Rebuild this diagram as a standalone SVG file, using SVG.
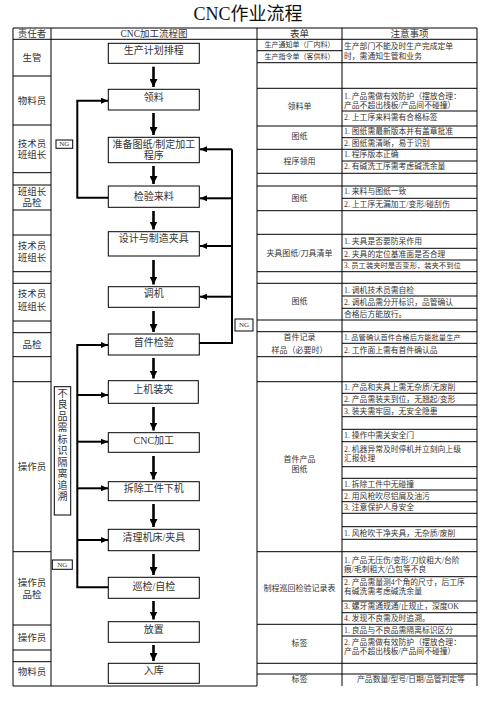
<svg xmlns="http://www.w3.org/2000/svg" width="496" height="702" viewBox="0 0 496 702">
<defs>
<style>
text{font-family:"Liberation Serif","Noto Sans CJK SC",serif;fill:#333;dominant-baseline:central}
.grid{fill:none;stroke:#000;stroke-width:1}
.box{fill:#fff;stroke:#000;stroke-width:1}
.c{text-anchor:middle}
.h{font-size:9.5px}
.r{font-size:9.5px;text-anchor:middle}
.n{font-size:10px;text-anchor:middle}
.f{font-size:8px;text-anchor:middle}
.s{font-size:7px;text-anchor:middle}
.d{font-size:7.8px}
.ng{font-size:7px;text-anchor:middle;font-family:"Liberation Serif",serif}
.flow{fill:none;stroke:#000;stroke-width:2.6}
.fb{fill:none;stroke:#000;stroke-width:2}
</style>
<marker id="ah" markerUnits="userSpaceOnUse" markerWidth="8" markerHeight="8" viewBox="0 0 8 8" refX="8" refY="4" orient="auto">
<path d="M0,0 L8,4 L0,8 Z" fill="#000"/>
</marker>
<marker id="ahs" markerUnits="userSpaceOnUse" markerWidth="7" markerHeight="6" viewBox="0 0 7 6" refX="7" refY="3" orient="auto">
<path d="M0,0 L7,3 L0,6 Z" fill="#000"/>
</marker>
</defs>
<rect width="496" height="702" fill="#fff"/>
<text x="248" y="14" class="c" style="font-size:18px;fill:#111">CNC作业流程</text>

<g id="table">
<path class="grid" d="M13,28H477M13,39.3H477M13,28V686M51,28V686M257,28V686M342,28V686M477,28V686M13,686H257"/>
<path class="grid" d="M13,76H51M13,125H51M13,172.7H51M13,185H51M13,210H51M13,235H51M13,271.7H51M13,283.3H51M13,321H51M13,332.7H51M13,356.7H51M13,381.7H51M13,551.7H51M13,625H51M13,650H51M13,661.7H51"/>
<path class="grid" d="M257,62.7H477M257,88.3H477M257,126H477M257,149.3H477M257,173.3H477M257,186H477M257,210.7H477M257,234.3H477M257,271.7H477M257,283.3H477M257,320H477M257,331.7H477M257,356.7H477M257,381.7H477M257,551.7H477M257,624.3H477M257,663.3H477M257,674H477M257,50.7H342"/>
<path class="grid" d="M342,111H477M342,137.7H477M342,161H477M342,198.3H477M342,248.3H477M342,260H477M342,296H477M342,308.3H477M342,343.3H477M342,393.3H477M342,405H477M342,416.7H477M342,429.3H477M342,441.7H477M342,466.7H477M342,478.3H477M342,490H477M342,501.7H477M342,513.3H477M342,526.7H477M342,539.3H477M342,576.7H477M342,601H477M342,612.7H477M342,636H477"/>
<text x="32" y="34" class="h c">责任者</text>
<text x="154" y="34" class="h c">CNC加工流程图</text>
<text x="299.5" y="34" class="h c">表单</text>
<text x="409.5" y="34" class="h c">注意事项</text>
</g>

<g id="roles">
<text x="32" y="57.5" class="r">生管</text>
<text x="32" y="100.5" class="r">物料员</text>
<text x="32" y="144" class="r">技术员</text>
<text x="32" y="155" class="r">班组长</text>
<text x="32" y="191.7" class="r">班组长</text>
<text x="32" y="203" class="r">品检</text>
<text x="32" y="245.5" class="r">技术员</text>
<text x="32" y="258" class="r">班组长</text>
<text x="32" y="294" class="r">技术员</text>
<text x="32" y="306.7" class="r">班组长</text>
<text x="32" y="345" class="r">品检</text>
<text x="32" y="467" class="r">操作员</text>
<text x="32" y="582.7" class="r">操作员</text>
<text x="32" y="595" class="r">品检</text>
<text x="32" y="637.5" class="r">操作员</text>
<text x="32" y="672" class="r">物料员</text>
</g>

<g id="forms">
<text x="299.5" y="45" class="s">生产通知单（厂内料）</text>
<text x="299.5" y="56.7" class="s">生产指令单（客供料）</text>
<text x="299.5" y="106.7" class="f">领料单</text>
<text x="299.5" y="136.7" class="f">图纸</text>
<text x="299.5" y="161.3" class="f">程序领用</text>
<text x="299.5" y="198.3" class="f">图纸</text>
<text x="299.5" y="253.3" class="f">夹具图纸/刀具清单</text>
<text x="299.5" y="301.7" class="f">图纸</text>
<text x="299.5" y="337.5" class="f">首件记录</text>
<text x="299.5" y="350" class="f">样品（必要时）</text>
<text x="299.5" y="459.3" class="f">首件产品</text>
<text x="299.5" y="469" class="f">图纸</text>
<text x="299.5" y="588.3" class="f">制程巡回检验记录表</text>
<text x="299.5" y="643.3" class="f">标签</text>
<text x="299.5" y="679" class="f">标签</text>
</g>

<g id="notes">
<text x="344" y="46.7" class="d">生产部门不能及时生产完成定单</text>
<text x="344" y="56.7" class="d">时，需通知生管和业务</text>
<text x="344" y="96.7" class="d">1. 产品需做有效防护（摆放合理：</text>
<text x="344" y="105.5" class="d">产品不超出栈板/产品间不碰撞）</text>
<text x="344" y="117.5" class="d">2. 上工序来料需有合格标签</text>
<text x="344" y="131.7" class="d">1. 图纸需最新版本并有盖章批准</text>
<text x="344" y="143.3" class="d">2. 图纸需清晰，易于识别</text>
<text x="344" y="154.7" class="d">1. 程序版本正确</text>
<text x="344" y="166.7" class="d">2. 有碱洗工序需考虑碱洗余量</text>
<text x="344" y="191.7" class="d">1. 来料与图纸一致</text>
<text x="344" y="204" class="d">2. 上工序无漏加工/变形/碰刮伤</text>
<text x="344" y="241" class="d">1. 夹具是否要防呆作用</text>
<text x="344" y="254" class="d">2. 夹具的定位基准面是否合理</text>
<text x="344" y="265.8" class="d" style="font-size:7.3px">3. 员工装夹时是否变形，装夹不到位</text>
<text x="344" y="290" class="d">1. 调机技术员需自检</text>
<text x="344" y="302.4" class="d">2. 调机品需分开标识，品管确认</text>
<text x="344" y="314" class="d">合格后方能放行。</text>
<text x="344" y="337.5" class="d" style="font-size:7.3px">1. 品管确认首件合格后方能批量生产</text>
<text x="344" y="350" class="d">2. 工作面上需有首件确认品</text>
<text x="344" y="387.5" class="d">1. 产品和夹具上需无杂质/无废削</text>
<text x="344" y="399.3" class="d">2. 产品需装夹到位，无翘起/变形</text>
<text x="344" y="411" class="d">3. 装夹需牢固，无安全隐患</text>
<text x="344" y="435.5" class="d">1. 操作中需关安全门</text>
<text x="344" y="449" class="d">2. 机器异常及时停机并立刻向上级</text>
<text x="344" y="458.5" class="d">汇报处理</text>
<text x="344" y="484.2" class="d">1. 拆除工件中无碰撞</text>
<text x="344" y="496" class="d">2. 用风枪吹尽铝屑及油污</text>
<text x="344" y="507.5" class="d">3. 注意保护人身安全</text>
<text x="344" y="533" class="d">1. 风枪吹干净夹具，无杂质/废削</text>
<text x="344" y="560" class="d">1. 产品无压伤/变形/刀纹粗大/台阶</text>
<text x="344" y="569.5" class="d">痕/毛刺粗大/凸包等不良</text>
<text x="344" y="582" class="d">2. 产品需量测4个角的尺寸，后工序</text>
<text x="344" y="591.7" class="d">有碱洗需考虑碱洗余量</text>
<text x="344" y="606.8" class="d">3. 螺牙需通规通/止规止，深度OK</text>
<text x="344" y="618.5" class="d">4. 发现不良需及时追溯。</text>
<text x="344" y="630" class="d">1. 良品与不良品需隔离标识区分</text>
<text x="344" y="642" class="d">2. 产品需做有效防护（摆放合理：</text>
<text x="344" y="651.5" class="d">产品不超出栈板/产品间不碰撞）</text>
<text x="411" y="679" class="d c">产品数量/型号/日期/品管判定等</text>
</g>

<g id="n1"><rect class="box" x="108.3" y="43.3" width="91" height="20"/><text x="153.8" y="50" class="n">生产计划排程</text></g>
<g id="n2"><rect class="box" x="108.3" y="89.3" width="91" height="20.7"/><text x="153.8" y="97" class="n">领料</text></g>
<g id="n3"><rect class="box" x="108.3" y="137.3" width="91" height="25.4"/><text x="153.8" y="144.5" class="n">准备图纸/制定加工</text><text x="153.8" y="155.5" class="n">程序</text></g>
<g id="n4"><rect class="box" x="108.3" y="186" width="91" height="21.3"/><text x="153.8" y="196.5" class="n">检验来料</text></g>
<g id="n5"><rect class="box" x="108.3" y="231.7" width="91" height="24.3"/><text x="153.8" y="238" class="n">设计与制造夹具</text></g>
<g id="n6"><rect class="box" x="108.3" y="286.7" width="91" height="20.6"/><text x="153.8" y="293.5" class="n">调机</text></g>
<g id="n7"><rect class="box" x="108.3" y="334" width="91" height="21"/><text x="153.8" y="342" class="n">首件检验</text></g>
<g id="n8"><rect class="box" x="108.3" y="380.7" width="90" height="22.6"/><text x="153.3" y="389.5" class="n">上机装夹</text></g>
<g id="n9"><rect class="box" x="108.3" y="432.7" width="91" height="19.6"/><text x="153.8" y="440.5" class="n">CNC加工</text></g>
<g id="n10"><rect class="box" x="108.3" y="481.7" width="91" height="19"/><text x="153.8" y="488.5" class="n">拆除工件下机</text></g>
<g id="n11"><rect class="box" x="108.3" y="529.3" width="91" height="21.4"/><text x="153.8" y="537.5" class="n">清理机床/夹具</text></g>
<g id="n12"><rect class="box" x="108.3" y="577.3" width="91" height="21"/><text x="153.8" y="586" class="n">巡检/自检</text></g>
<g id="n13"><rect class="box" x="108.3" y="621.7" width="91" height="20.6"/><text x="153.8" y="629.5" class="n">放置</text></g>
<g id="n14"><rect class="box" x="108.3" y="663.3" width="91" height="20"/><text x="153.8" y="670.5" class="n">入库</text></g>

<g id="ng1"><rect class="box" x="56" y="140" width="16.7" height="8.3"/><text x="64.3" y="144.3" class="ng">NG</text></g>
<g id="ng2"><rect class="box" x="235" y="319" width="18" height="12"/><text x="244" y="325.2" class="ng">NG</text></g>
<g id="ng3"><rect class="box" x="52.3" y="560" width="20" height="9.3"/><text x="62.3" y="564.8" class="ng">NG</text></g>
<g id="tag"><rect class="box" x="54.3" y="386.7" width="16.4" height="128.3"/>
<text x="62.5" y="393" class="n">不</text><text x="62.5" y="404.5" class="n">良</text><text x="62.5" y="416" class="n">品</text><text x="62.5" y="427.5" class="n">需</text><text x="62.5" y="439" class="n">标</text><text x="62.5" y="450.5" class="n">识</text><text x="62.5" y="462" class="n">隔</text><text x="62.5" y="473.5" class="n">离</text><text x="62.5" y="485" class="n">追</text><text x="62.5" y="496.5" class="n">溯</text>
</g>

<g id="connectors">
<path class="flow" marker-end="url(#ah)" d="M153.5,66.7V87"/>
<path class="flow" marker-end="url(#ah)" d="M153.5,113V135"/>
<path class="flow" marker-end="url(#ah)" d="M153.5,166V184"/>
<path class="flow" marker-end="url(#ah)" d="M153.5,211V229.5"/>
<path class="flow" marker-end="url(#ah)" d="M153.5,260V284.5"/>
<path class="flow" marker-end="url(#ah)" d="M153.5,311V332"/>
<path class="flow" marker-end="url(#ah)" d="M153.5,358V378.5"/>
<path class="flow" marker-end="url(#ah)" d="M153.5,407V430.5"/>
<path class="flow" marker-end="url(#ah)" d="M153.5,456V479.5"/>
<path class="flow" marker-end="url(#ah)" d="M153.5,504V527"/>
<path class="flow" marker-end="url(#ah)" d="M153.5,554V575"/>
<path class="flow" marker-end="url(#ah)" d="M153.5,601V619.5"/>
<path class="flow" marker-end="url(#ah)" d="M153.5,645V661"/>
<path class="fb" marker-end="url(#ahs)" d="M108.3,197.7H77.3V100.7H108"/>
<path class="fb" d="M199.3,343H232V149.3"/>
<path class="fb" marker-end="url(#ahs)" d="M232,149.3H200"/>
<path class="fb" marker-end="url(#ahs)" d="M232,198.3H200"/>
<path class="fb" marker-end="url(#ahs)" d="M232,246H200"/>
<path class="fb" marker-end="url(#ahs)" d="M232,296.7H200"/>
<path class="fb" marker-end="url(#ahs)" d="M108.3,587.3H77.3V345H108"/>
<path class="fb" marker-end="url(#ahs)" d="M77.3,395H108"/>
<path class="fb" marker-end="url(#ahs)" d="M77.3,441.7H108"/>
<path class="fb" marker-end="url(#ahs)" d="M77.3,488.3H108"/>
<path class="fb" marker-end="url(#ahs)" d="M77.3,540H108"/>
</g>
</svg>
